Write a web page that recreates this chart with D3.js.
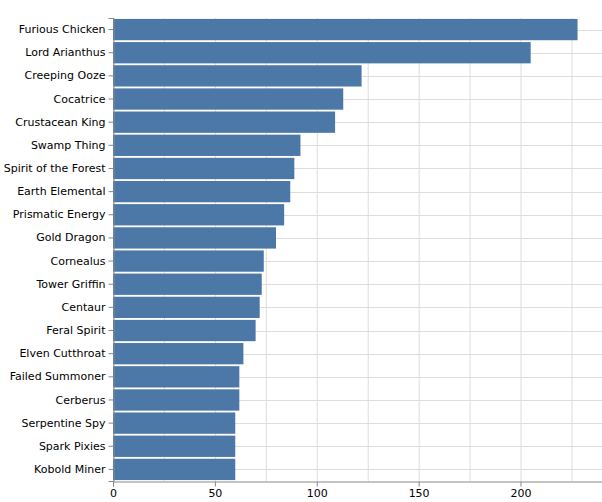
<!DOCTYPE html>
<html><head><meta charset="utf-8">
<script src="https://cdn.jsdelivr.net/npm/d3@7"></script>
<style>body{margin:0;background:#fff}text{font-family:"DejaVu Sans",sans-serif}</style>
</head><body><svg id="c" width="602" height="502"></svg>
<script>
const categories=["Furious Chicken","Lord Arianthus","Creeping Ooze","Cocatrice","Crustacean King","Swamp Thing","Spirit of the Forest","Earth Elemental","Prismatic Energy","Gold Dragon","Cornealus","Tower Griffin","Centaur","Feral Spirit","Elven Cutthroat","Failed Summoner","Cerberus","Serpentine Spy","Spark Pixies","Kobold Miner"];
const values=[228,205,122,113,109,92,89,87,84,80,74,73,72,70,64,62,62,60,60,60];
const ticks=[0,50,100,150,200];
const svg=d3.select("#c");
const x=d3.scaleLinear().domain([0,240]).range([113,602]);
const y=d3.scaleBand().domain(categories).range([18,481]).paddingInner(0.08).paddingOuter(0.04);
const g=svg.append("g");
g.selectAll("line.v").data(d3.range(0,241,25)).join("line").attr("x1",d=>x(d)+.5).attr("x2",d=>x(d)+.5).attr("y1",18).attr("y2",481).attr("stroke","#ddd");
g.selectAll("line.h").data(categories).join("line").attr("x1",113).attr("x2",602).attr("y1",d=>Math.round(y(d)+y.bandwidth()/2)+.5).attr("y2",d=>Math.round(y(d)+y.bandwidth()/2)+.5).attr("stroke","#ddd");
g.selectAll("rect").data(values).join("rect").attr("x",x(0)).attr("y",(d,i)=>y(categories[i])).attr("width",d=>x(d)-x(0)).attr("height",y.bandwidth()).attr("fill","#4c78a8");
const xa=svg.append("g").attr("transform","translate(0,481.5)").call(d3.axisBottom(x).tickValues(ticks).tickSize(5).tickPadding(3));
const ya=svg.append("g").attr("transform","translate(113.5,0)").call(d3.axisLeft(y).tickSize(5).tickPadding(3));
[xa,ya].forEach(a=>{a.selectAll("text").attr("font-size",11).attr("fill","#000");a.selectAll("line,path").attr("stroke","#888");});
</script></body></html>
